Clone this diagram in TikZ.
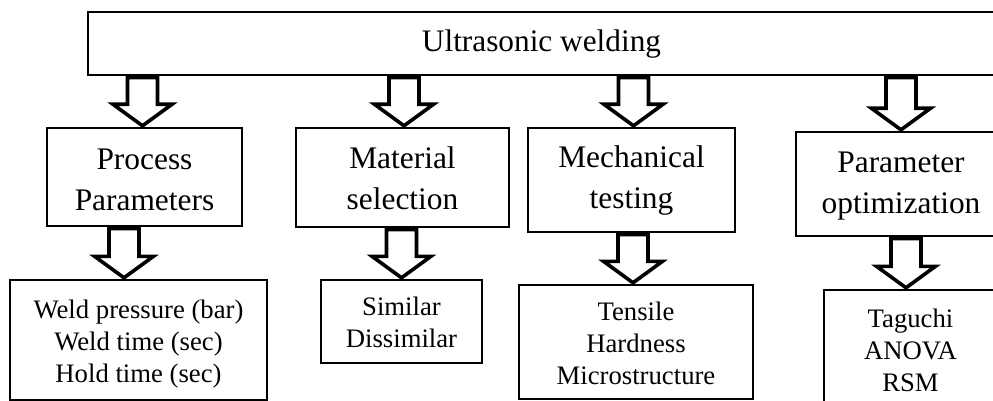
\documentclass[tikz,border=0pt]{standalone}
\usepackage{fontspec}
\setmainfont{Liberation Serif}
\usetikzlibrary{calc}
\newcommand\midtxt[3]{\rule{0pt}{33pt}#1\\#2\rule[-#3pt]{0pt}{#3pt}}
\newcommand\lowtwo[3]{\rule{0pt}{26pt}#1\\#2\rule[-#3pt]{0pt}{#3pt}}
\newcommand\lowthree[4]{\rule{0pt}{26pt}#1\\#2\\#3\rule[-#4pt]{0pt}{#4pt}}
\begin{document}
\begin{tikzpicture}[x=1pt,y=-1pt,
  box/.style={draw, line width=1.4pt, inner sep=0pt, align=center},
  topfont/.style={font=\fontsize{31.3}{41}\selectfont},
  midfont/.style={font=\fontsize{31.4}{41}\selectfont},
  lowfont/.style={font=\fontsize{26.7}{32}\selectfont},
  blockarrow/.style={draw, line width=3.6pt, fill=white, line join=miter,
    to path={let \p1=(\tikztostart), \p2=(\tikztotarget) in
      (\x2-15pt,\y1-1.8pt) -- (\x2-15pt,\y2+23pt) -- (\x2-29.5pt,\y2+23pt)
      -- (\x2,\y2+1.5pt) -- (\x2+29.5pt,\y2+23pt) -- (\x2+15pt,\y2+23pt)
      -- (\x2+15pt,\y1-1.8pt) -- cycle}}
]
\useasboundingbox (0,0) rectangle (993,401);
\clip (0,0) rectangle (993,401);

\node[box, topfont, text height=25pt, text depth=8pt, minimum width=907pt, minimum height=63pt] (top) at (541.5,43.5) {Ultrasonic welding};

\node[box, midfont, minimum width=195pt, minimum height=98pt] (proc) at (144.5,177) {\midtxt{Process}{Parameters}{8}};
\node[box, midfont, minimum width=213pt, minimum height=99pt] (mat) at (402.5,177.5) {\midtxt{Material}{selection}{11}};
\node[box, midfont, minimum width=207pt, minimum height=104pt] (mech) at (631.5,180) {\midtxt{Mechanical}{testing}{18}};
\node[box, midfont, minimum width=210pt, minimum height=104pt] (param) at (901,184) {\midtxt{Parameter}{optimization}{16}};

\node[box, lowfont, minimum width=257pt, minimum height=120pt] (weld) at (138.5,340) {\lowthree{Weld pressure (bar)}{Weld time (sec)}{Hold time (sec)}{4}};
\node[box, lowfont, minimum width=161pt, minimum height=83pt] (sim) at (401.5,321.5) {\lowtwo{Similar}{Dissimilar}{7}};
\node[box, lowfont, minimum width=234pt, minimum height=114pt] (tens) at (636,342) {\lowthree{Tensile}{Hardness}{Microstructure}{6}};
\node[box, lowfont, minimum width=173pt, minimum height=120pt] (tag) at (910.5,350) {\lowthree{Taguchi}{ANOVA}{RSM}{8}};

\draw[blockarrow] (top.south) to ([xshift=-2pt]proc.north);
\draw[blockarrow] (top.south) to ([xshift=1.5pt]mat.north);
\draw[blockarrow] (top.south) to ([xshift=2pt]mech.north);
\draw[blockarrow] (top.south) to (param.north);
\draw[blockarrow] (proc.south) to ([xshift=-14.5pt]weld.north);
\draw[blockarrow] (mat.south) to (sim.north);
\draw[blockarrow] (mech.south) to ([xshift=-3pt]tens.north);
\draw[blockarrow] (param.south) to ([xshift=-4.5pt]tag.north);
\end{tikzpicture}
\end{document}
